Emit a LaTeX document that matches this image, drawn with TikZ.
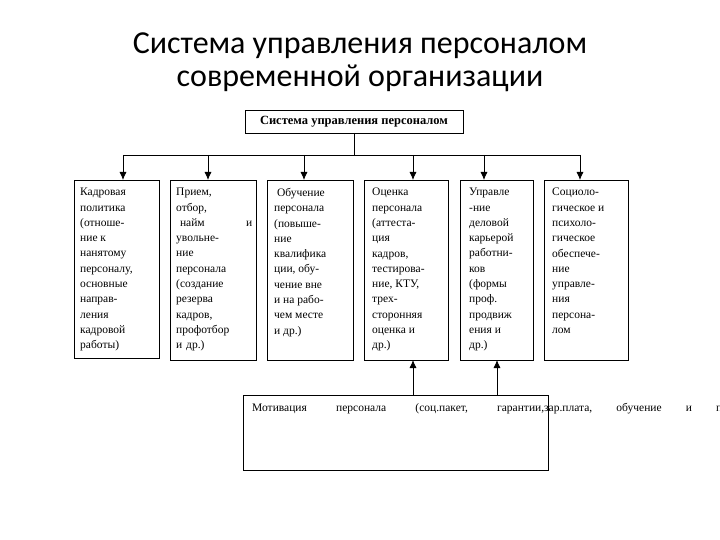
\documentclass[tikz,border=0pt]{standalone}
\usepackage{fontspec}
\setmainfont{Liberation Serif}
\newfontfamily\titlefont{Carlito}
\usetikzlibrary{arrows.meta}
\newcommand{\jl}[1]{\hbox to 292pt{#1}}
\begin{document}
\begin{tikzpicture}[x=1pt,y=-1pt,
  box/.style={draw,line width=0.8pt},
  txt/.style={anchor=north west,align=left,font=\fontsize{11.5}{15.3}\selectfont,inner sep=0pt},
  arr/.style={line width=0.8pt,-{Latex[length=8pt,width=7pt]}}]
\useasboundingbox (0,0) rectangle (720,540);
\node[font=\titlefont\fontsize{32}{33}\selectfont,align=center] (title) at (360,62) {Система управления персоналом\\современной организации};
\draw[box] (245,110) rectangle (463,133);
\node[font=\bfseries\fontsize{12.5}{14}\selectfont] (top) at (354,121.5) {Система управления персоналом};
\coordinate (t) at (354,133);
\coordinate (bar) at (354,155);
\draw[line width=0.8pt] (t) -- (bar);
\draw[line width=0.8pt] (123,155) -- (580,155);
\foreach \x/\l/\r/\b in {123/74/159/358,208/170/256/360,304/267/353/360,413/364/448/360,484/460/533/360,580/544/628/360}{
  \draw[box] (\l,180) rectangle (\r,\b);
  \draw[arr] (\x,155) -- (\x,180);
}
\node[txt] (b1) at (80,188) {Кадровая\\политика\\(отноше-\\ние к\\нанятому\\персоналу,\\ основные\\направ-\\ления\\кадровой\\работы)};
\node[txt,text width=76pt] (b2) at (176,188) {Прием,\\отбор,\\ \ найм\hfill и\\увольне-\\ние\\персонала\\(создание\\резерва\\кадров,\\профотбор\\и др.)};
\node[txt] (b3) at (274,188) {\ Обучение\\персонала\\(повыше-\\ние\\квалифика\\ции, обу-\\чение вне\\и на рабо-\\чем месте\\и др.)};
\node[txt] (b4) at (372,188) {Оценка\\персонала\\(аттеста-\\ция\\кадров,\\тестирова-\\ние, КТУ,\\трех-\\сторонняя\\оценка и\\др.)};
\node[txt] (b5) at (469,188) {Управле\\-ние\\деловой\\карьерой\\работни-\\ков\\(формы\\проф.\\продвиж\\ения и\\др.)};
\node[txt] (b6) at (552,188) {Социоло-\\гическое и\\психоло-\\гическое\\обеспече-\\ние\\управле-\\ния\\персона-\\лом};
\draw[box] (243,395) rectangle (548,470);
\node[txt,text width=292pt] (m) at (252,403) {\jl{Мотивация\hfill персонала\hfill (соц.пакет,\hfill гарантии,}\jl{зар.плата,\hfill обучение\hfill и\hfill проф.\hfill продвижение,}\jl{условия\hfill рабочих\hfill мест,\hfill климат,\hfill нормы}\jl{безопасности,. санитарные требования и др.)\hfill}};
\draw[arr] (413,395) -- (413,360);
\draw[arr] (497,395) -- (497,360);
\end{tikzpicture}
\end{document}
